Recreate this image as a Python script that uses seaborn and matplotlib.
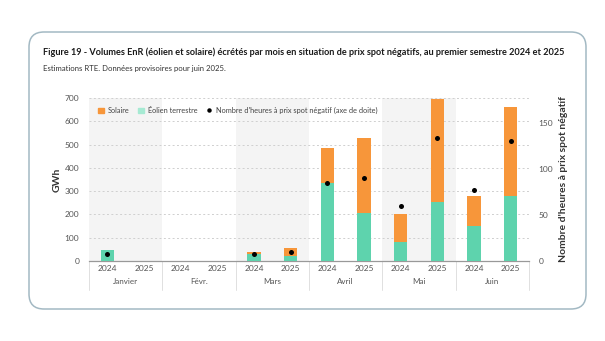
import numpy as np
import pandas as pd
import matplotlib
matplotlib.use("Agg")
import matplotlib.pyplot as plt
from matplotlib.patches import FancyBboxPatch
from matplotlib.lines import Line2D
from matplotlib.patches import Patch
import seaborn as sns

sns.set_theme(style="white")
plt.rcParams['font.family'] = ['Lato', 'DejaVu Sans']

months = ["Janvier", "Févr.", "Mars", "Avril", "Mai", "Juin"]
years = ["2024", "2025"]
eolien = [47, 0, 0, 0, 29, 23, 337, 204, 80, 255, 151, 280]
solaire = [0, 0, 0, 0, 10, 32, 149, 324, 122, 442, 129, 383]
heures = [8, np.nan, np.nan, np.nan, 8, 10, 85, 90, 60, 134, 77, 131]

slots = [f"{m}-{y}" for m in months for y in years]
df = pd.DataFrame({
    "slot": slots,
    "eolien": eolien,
    "solaire": solaire,
    "heures": heures,
})
df["total"] = df["eolien"] + df["solaire"]
df["pos"] = np.arange(len(df))

C_SOL = "#F7963A"
C_EOL = "#5ED3AD"
TXT = "#555555"

fig = plt.figure(figsize=(6.05, 3.41), dpi=100)
fig.patch.set_facecolor("white")

# rounded frame
frame = FancyBboxPatch((0.29, 0.32), 5.57, 2.77,
                       boxstyle="round,pad=0,rounding_size=0.15",
                       transform=fig.dpi_scale_trans, fill=False,
                       edgecolor="#a3b9c3", linewidth=1.1)
fig.patches.append(frame)

fig.text(43/605, 1-52/341, "Figure 19 - Volumes EnR (éolien et solaire) écrétés par mois en situation de prix spot négatifs, au premier semestre 2024 et 2025",
         fontsize=6.6, fontweight="bold", color="#1a1a1a", va="center", ha="left")
fig.text(43/605, 1-68/341, "Estimations RTE. Données provisoires pour juin 2025.",
         fontsize=5.6, color="#333333", va="center", ha="left")

ax = fig.add_axes([89/605, 80/341, (529-89)/605, (261-98)/341])

# month shading
for i in [0, 2, 4]:
    ax.axvspan(2*i - 0.5, 2*i + 1.5, color="#f4f4f4", zorder=0, lw=0)

sns.barplot(data=df, x="slot", y="total", order=slots, color=C_SOL,
            width=0.36, saturation=1, ax=ax, zorder=2, linewidth=0)
sns.barplot(data=df, x="slot", y="eolien", order=slots, color=C_EOL,
            width=0.36, saturation=1, ax=ax, zorder=3, linewidth=0)

ax.set_xlim(-0.5, 11.5)
ax.set_ylim(0, 700)
ax.set_yticks(range(0, 701, 100))
ax.tick_params(axis="y", labelsize=6, colors=TXT, length=0, pad=7)
ax.set_xticks(range(12))
ax.set_xticklabels(years * 6)
ax.tick_params(axis="x", labelsize=6, colors=TXT, length=0, pad=3)
for yv in range(100, 701, 100):
    ax.axhline(yv, color="#cfcfcf", lw=0.7, ls=(0, (2, 2.5)), zorder=1)
for s in ["top", "right", "left"]:
    ax.spines[s].set_visible(False)
ax.spines["bottom"].set_color("#999999")
ax.spines["bottom"].set_linewidth(0.9)
ax.set_xlabel("")
ax.set_ylabel("GWh", fontsize=7.5, fontweight="bold", color="#333333", labelpad=2)

# month labels and separators
for i, m in enumerate(months):
    ax.text(2*i + 0.5, -20/163, m, transform=ax.get_xaxis_transform(),
            ha="center", va="center", fontsize=5.8, color=TXT)
for i in range(7):
    ax.plot([2*i - 0.5, 2*i - 0.5], [0, -29/163], transform=ax.get_xaxis_transform(),
            color="#e0e0e0", lw=0.7, clip_on=False)

ax2 = ax.twinx()
sns.scatterplot(data=df, x="pos", y="heures", color="black", s=13, ax=ax2,
                zorder=5, linewidth=0)
ax2.set_xlim(-0.5, 11.5)
ax2.set_ylim(0, 177.5)
ax2.set_yticks([0, 50, 100, 150])
ax2.tick_params(axis="y", labelsize=6, colors=TXT, length=0, pad=7)
for s in ["top", "right", "left", "bottom"]:
    ax2.spines[s].set_visible(False)
ax2.set_ylabel("Nombre d'heures à prix spot négatif", fontsize=7.5, fontweight="bold",
               color="#333333", labelpad=4)
ax2.set_xlabel("")

handles = [Patch(color=C_SOL, label="Solaire"),
           Patch(color="#a6ead3", label="Éolien terrestre"),
           Line2D([], [], marker="o", color="black", ls="none", markersize=2.2,
                  label="Nombre d'heures à prix spot négatif (axe de doite)")]
ax2.legend(handles=handles, loc="upper left", bbox_to_anchor=(0.005, 0.985), ncol=3,
           frameon=False, fontsize=5.3, handlelength=0.8, handleheight=0.8,
           columnspacing=1.2, handletextpad=0.5, labelcolor="#444444")

fig.savefig("out.png", dpi=100)
